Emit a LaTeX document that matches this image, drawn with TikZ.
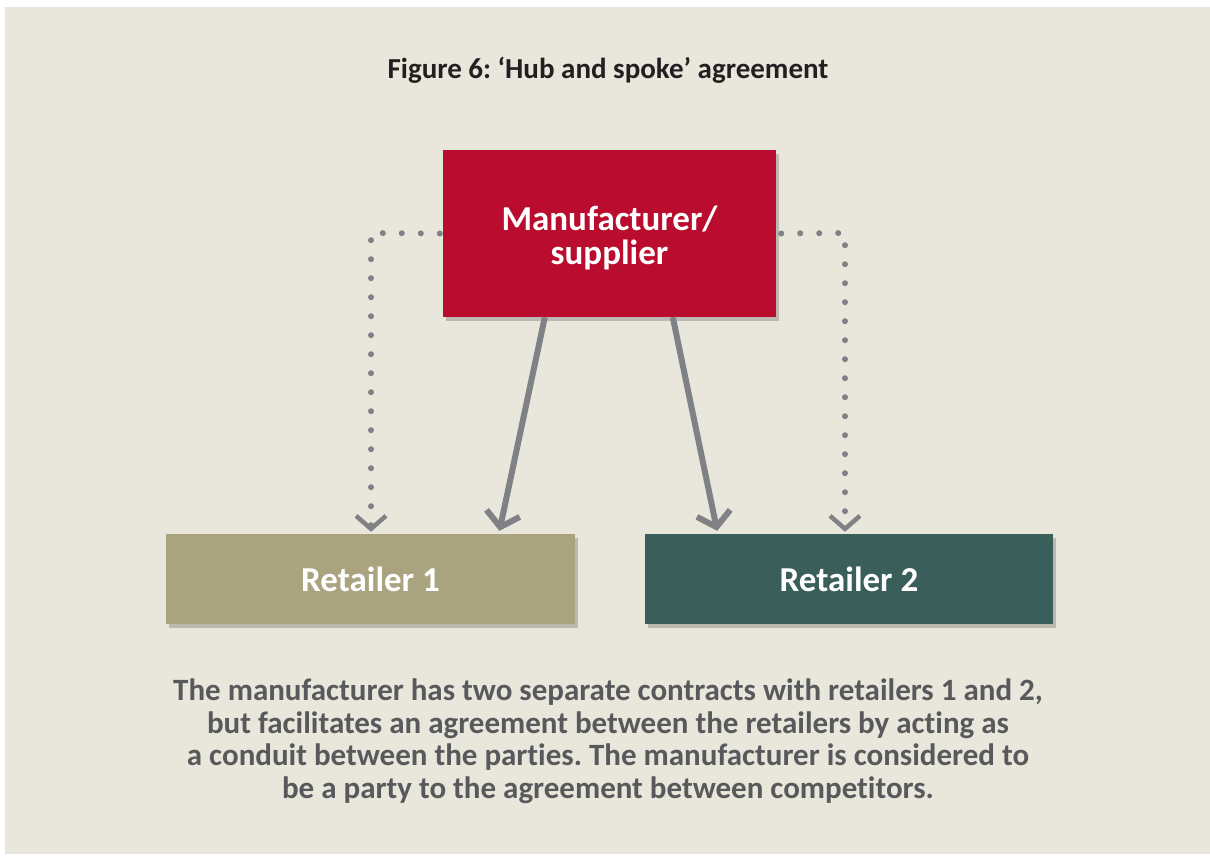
\documentclass[tikz,border=0pt]{standalone}
\usepackage{fontspec}
\setmainfont{Carlito}[Ligatures=NoCommon]
\usetikzlibrary{arrows.meta,shadows,calc}
\definecolor{bgc}{HTML}{E9E6DC}
\definecolor{crim}{HTML}{BA0C2F}
\definecolor{olive}{HTML}{A9A380}
\definecolor{teal}{HTML}{3A5F5A}
\definecolor{arr}{HTML}{808184}
\definecolor{bodyc}{HTML}{58595B}
\definecolor{titlec}{HTML}{231F20}
\frenchspacing
\tikzset{
  box/.style={rectangle, inner sep=0pt, text=white, font=\bfseries\fontsize{35}{34}\selectfont, align=center,
    drop shadow={shadow xshift=3pt, shadow yshift=-4pt, opacity=0.35, fill=black!60}},
  solidarrow/.style={draw=arr, line width=6pt, -{Straight Barb[length=14pt,width=34pt,line width=6pt]}},
  dotarrow/.style={draw=arr, line width=6pt, line cap=round, dash pattern=on 0pt off 19pt,
    -{Straight Barb[length=13pt,width=30pt,line width=4.5pt]}},
}
\begin{document}
\begin{tikzpicture}[x=1pt,y=-1pt]
\useasboundingbox (0,0) rectangle (1210,855);
\fill[white] (0,0) rectangle (1210,855);
\fill[bgc] (5,7) rectangle (1210,854);
\node[font=\bfseries\fontsize{29}{32}\selectfont, text=titlec] (title) at (608,70) {Figure 6: ‘Hub and spoke’ agreement};
\node[box, fill=crim, minimum width=333pt, minimum height=167pt] (M) at (609.5,233.5) {};
\node[text=white, font=\bfseries\fontsize{35}{34}\selectfont, align=center] (Mt) at (M.center) [yshift=-4pt] {Manufacturer/\\supplier};
\node[box, fill=olive, minimum width=409pt, minimum height=90pt] (R1) at (370.5,579) {Retailer 1};
\node[box, fill=teal, minimum width=408pt, minimum height=90pt] (R2) at (849,579) {Retailer 2};
\coordinate (dl) at (371,233);
\coordinate (dr) at (845,233);
\draw[solidarrow, shorten >=3pt] ([xshift=102pt]M.south west) -- ([xshift=333pt]R1.north west);
\draw[solidarrow, shorten >=3pt] ([xshift=230pt]M.south west) -- ([xshift=73pt]R2.north west);
\draw[dotarrow, shorten >=2pt] ([xshift=-3pt]M.west) -- (dl) -- (dl |- R1.north);
\draw[dotarrow, shorten >=2pt] ([xshift=5pt]M.east) -- (dr) -- (dr |- R2.north);
\node[font=\bfseries\fontsize{31}{32.5}\selectfont, text=bodyc, align=center] (body) at (608,741)
 {The manufacturer has two separate contracts with retailers 1 and 2,\\
  but facilitates an agreement between the retailers by acting as\\
  a conduit between the parties. The manufacturer is considered to\\
  be a party to the agreement between competitors.};
\end{tikzpicture}
\end{document}
